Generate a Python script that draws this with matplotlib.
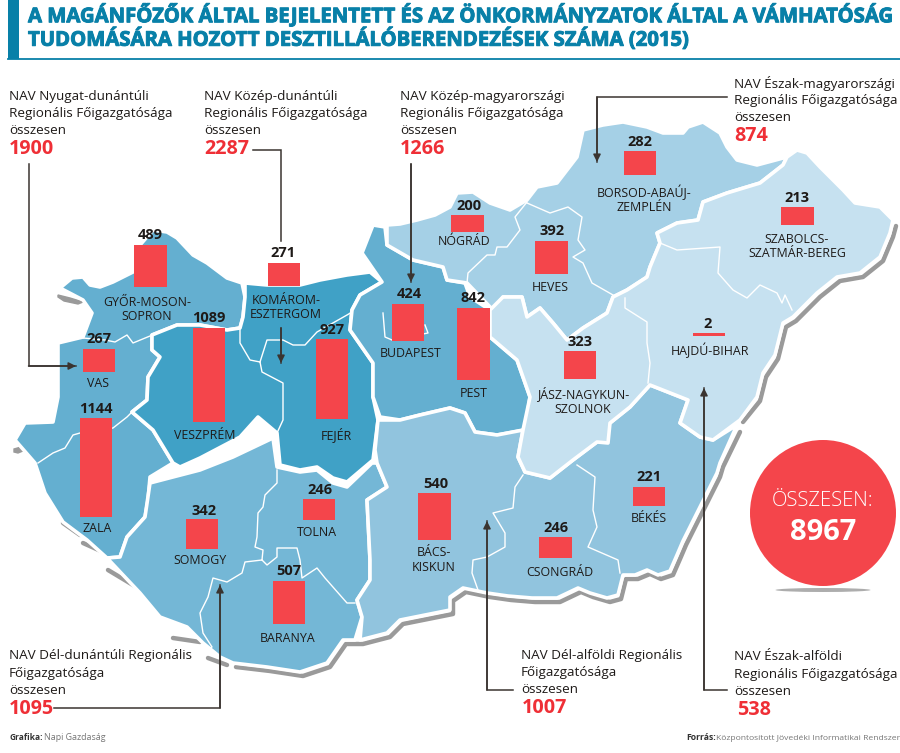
import matplotlib
matplotlib.use("Agg")
import matplotlib.pyplot as plt
import matplotlib.patheffects as pe
from matplotlib.patches import Polygon, Circle, Ellipse, Rectangle

plt.rcParams['font.family'] = ['Open Sans', 'DejaVu Sans']

# ---------- data ----------
counties = ["GYŐR-MOSON-\nSOPRON", "KOMÁROM-\nESZTERGOM", "VAS", "VESZPRÉM", "FEJÉR", "ZALA", "SOMOGY", "TOLNA",
            "BARANYA", "BÁCS-\nKISKUN", "BUDAPEST", "PEST", "NÓGRÁD", "HEVES", "BORSOD-ABAÚJ-\nZEMPLÉN",
            "JÁSZ-NAGYKUN-\nSZOLNOK", "HAJDÚ-BIHAR", "SZABOLCS-\nSZATMÁR-BEREG", "BÉKÉS", "CSONGRÁD"]
values = [489, 271, 267, 1089, 927, 1144, 342, 246, 507, 540, 424, 842, 200, 392, 282, 323, 2, 213, 221, 246]

region_lines = [
    "NAV Nyugat-dunántúli\nRegionális Főigazgatósága\nösszesen",
    "NAV Közép-dunántúli\nRegionális Főigazgatósága\nösszesen",
    "NAV Közép-magyarországi\nRegionális Főigazgatósága\nösszesen",
    "NAV Észak-magyarországi\nRegionális Főigazgatósága\nösszesen",
    "NAV Dél-dunántúli Regionális\nFőigazgatósága\nösszesen",
    "NAV Dél-alföldi Regionális\nFőigazgatósága\nösszesen",
    "NAV Észak-alföldi\nRegionális Főigazgatósága\nösszesen",
]
region_totals = [1900, 2287, 1266, 874, 1095, 1007, 538]
grand_total = 8967
title_lines = ["A MAGÁNFŐZŐK ÁLTAL BEJELENTETT ÉS AZ ÖNKORMÁNYZATOK ÁLTAL A VÁMHATÓSÁG",
               "TUDOMÁSÁRA HOZOTT DESZTILLÁLÓBERENDEZÉSEK SZÁMA (2015)"]

# ---------- layout (picture coordinates) ----------
RED = '#F4454B'; BLUE = '#0880A8'; INK = '#1E1A18'; LINE = '#3A3430'
BAR_W = 32.5
PX_PER_UNIT = 0.0865
bar_x = [150.5, 284, 99, 209, 332, 96, 202, 319, 289, 434.5, 408, 473.5, 467.5, 551.5, 640, 580, 709, 797.5, 649, 555.5]
bar_top = [245, 263, 349, 328, 339, 418, 519, 499, 580.5, 493, 304, 307.5, 215, 240.5, 151, 351, 333, 207, 487, 537]
val_y = [235, 253, 339, 318, 330, 409, 511, 490, 571, 484, 294, 298, 206, 231, 142, 342, 324, 198, 477, 528]
val_x = [150, 283, 99, 209, 332, 96, 204, 320, 289, 436, 409, 473, 469, 552, 640, 580, 708, 797, 649, 556]
lab_x = [147, 286, 98, 205, 336, 97, 200, 317, 288, 434, 411, 474, 464, 550, 644, 583, 710, 797, 649, 560]
lab_y = [309.5, 307.5, 383, 435, 435, 528, 561, 532, 638, 560, 353, 393, 241, 287, 199, 401, 350, 246.5, 519, 572]
reg_pos = [(9, 96, 9), (204, 96, 204), (400, 96, 400), (734, 83, 734), (9, 656, 9), (521, 655, 522), (734, 657, 737)]

nyugat = [(60,288),(72,278),(83,277),(90,285),(100,287),(113,282),(133,272),(140,245),(153,230),(167,232),(177,238),
          (193,255),(207,263),(227,278),(242,283),(245,297),(243,317),(240,328),(227,330),(200,325),(177,325),(152,335),
          (152,350),(160,357),(148,377),(147,400),(132,412),(153,430),(173,463),(150,477),(148,500),(145,517),(127,537),
          (120,557),(107,558),(87,540),(63,522),(45,493),(35,463),(15,440),(25,423),(53,422),(58,397),(58,343),(83,337),
          (92,313),(83,300)]
kozep_dun = [(245,283),(267,285),(300,285),(320,280),(347,275),(370,272),(382,282),(360,295),(352,310),(350,330),(373,363),
             (373,397),(378,420),(373,460),(347,482),(333,478),(317,467),(300,470),(280,465),(277,433),(258,417),(240,437),
             (200,458),(180,467),(173,463),(153,430),(132,412),(147,400),(148,377),(160,357),(152,350),(152,335),(177,325),
             (200,325),(227,330),(240,328),(243,317),(245,297)]
kozep_mo = [(373,225),(385,227),(387,245),(413,260),(443,267),(447,280),(465,283),(470,297),(490,310),(490,337),(517,360),
            (530,397),(525,430),(497,435),(475,432),(465,413),(450,408),(420,415),(400,420),(380,417),(373,397),(373,363),
            (350,330),(352,310),(360,295),(382,282),(362,253)]
del_dun = [(150,483),(173,477),(200,470),(233,457),(273,438),(277,467),(300,472),(317,470),(333,483),(347,487),(372,463),
           (377,463),(387,487),(367,500),(370,560),(370,580),(357,600),(362,617),(355,640),(343,640),(327,663),(300,672),
           (267,667),(233,663),(220,657),(203,643),(187,627),(160,617),(140,593),(107,558),(120,557),(127,537),(145,517)]
del_alf = [(378,420),(400,420),(420,415),(450,408),(465,413),(475,432),(497,435),(523,430),(518,457),(525,472),(550,478),
           (573,460),(597,442),(610,423),(630,407),(650,385),(688,400),(680,423),(700,437),(713,440),(737,425),(720,463),
           (717,473),(690,527),(683,541),(677,555),(670,571),(658,575),(647,570),(635,575),(623,575),(618,595),(607,598),
           (590,593),(578,588),(557,598),(532,598),(508,596),(487,593),(463,588),(450,597),(450,610),(400,620),(387,633),
           (360,640),(362,617),(357,600),(370,580),(370,560),(367,500),(387,487),(377,463),(375,450)]
eszak_mo = [(387,225),(400,224),(417,220),(435,215),(450,207),(457,193),(473,192),(490,203),(510,210),(527,200),(537,187),
            (557,183),(577,157),(583,130),(603,125),(623,122),(647,127),(663,133),(683,133),(688,127),(703,122),(720,133),
            (727,147),(737,160),(757,165),(787,157),(783,165),(760,183),(727,193),(703,202),(698,220),(677,223),(657,233),
            (660,243),(650,267),(647,277),(627,290),(613,297),(607,313),(583,328),(567,340),(553,323),(540,308),(527,317),
            (522,297),(503,297),(493,310),(467,283),(447,280),(443,267),(413,260),(387,245)]
eszak_alf = [(567,340),(583,328),(607,313),(613,297),(627,290),(647,277),(650,267),(660,243),(657,233),(677,223),(698,220),
             (703,202),(727,193),(760,183),(783,165),(787,157),(797,150),(807,153),(820,167),(843,190),(855,203),(880,207),
             (893,220),(890,233),(880,257),(860,273),(837,277),(817,293),(793,317),(783,323),(775,355),(763,373),(757,397),
             (740,420),(713,440),(700,437),(680,423),(688,400),(650,385),(630,407),(610,423),(608,443),(597,442),(573,460),
             (550,478),(525,472),(518,457),(523,430),(530,397),(517,360),(490,337),(490,310),(503,297),(522,297),(527,317),
             (540,308),(553,323)]
regions = [(nyugat, '#64AFD0'), (kozep_dun, '#40A1C6'), (kozep_mo, '#64AFD0'), (del_dun, '#74B7D6'),
           (del_alf, '#91C4DE'), (eszak_mo, '#A5D0E6'), (eszak_alf, '#C6E1F0')]

inner_borders = [
    [(83,338),(105,340),(115,342),(127,335),(133,343),(150,336)],
    [(38,463),(53,453),(65,448),(73,435),(80,433),(113,428),(127,417),(132,412)],
    [(240,328),(240,343),(250,360),(260,362)],
    [(260,362),(262,372),(283,383),(283,420),(277,433)],
    [(260,362),(267,340),(283,340),(293,345),(305,345),(317,332),(347,315),(352,312)],
    [(277,470),(277,483),(265,495),(263,507),(258,513),(257,537),(255,547),(263,550),(262,560)],
    [(262,560),(245,562),(242,573),(227,582),(213,578),(208,597),(200,613),(203,633),(212,647),(207,650)],
    [(262,560),(267,565),(277,557),(277,548),(297,548),(300,560),(302,578),(317,568),(325,578),(347,603),(355,603)],
    [(523,475),(515,487),(513,508),(493,513),(505,533),(505,547),(487,557),(473,560),(472,573),(478,590)],
    [(577,465),(595,477),(593,510),(597,527),(588,547),(618,560),(620,573)],
    [(527,202),(515,217),(520,230),(507,247),(497,247),(495,255),(487,255),(468,273),(467,283)],
    [(527,203),(550,213),(568,207),(582,217),(578,240),(585,250),(573,257),(583,263),(592,283),(613,295)],
    [(625,298),(625,308),(647,322),(647,343),(650,363),(648,383)],
    [(660,243),(677,250),(720,247),(718,273),(733,290),(747,298),(760,285),(777,293),(782,303),(785,295),(792,310)],
    [(383,313),(385,337),(392,340),(428,333),(425,325)],
]
shadows = [
    [(893,222),(890,233),(880,257),(860,273),(837,277),(817,293),(793,317),(783,323),(775,355),(763,373),(757,397),(740,418)],
    [(737,428),(720,463),(717,473),(690,527),(683,541),(677,555),(670,571),(658,575),(647,570),(635,575),(623,575),(618,595),
     (607,598),(590,593),(578,588),(557,598),(532,598),(508,596),(487,593),(463,588),(450,597),(450,610),(400,620),(387,633),
     (360,640),(343,640),(327,663),(300,672),(267,667),(233,663)],
    [(205,654),(224,661)], [(170,634),(197,638)], [(105,566),(135,584)], [(80,539),(100,548)], [(60,519),(77,531)],
]
gray_bits = [[(58,295),(70,298),(83,302),(78,304),(64,301),(58,297)], [(14,449),(28,445),(30,448),(18,453),(14,452)]]
leaders = [
    ([(28.5,164),(28.5,366),(76,366)], True),
    ([(253,150),(281,150),(281,241)], False),
    ([(281,328),(281,363)], True),
    ([(411,164),(411,282)], True),
    ([(727,97),(597,97),(597,162)], True),
    ([(54,708),(220,708),(220,585)], True),
    ([(513,690),(487,690),(487,521)], True),
    ([(727,690),(704,690),(704,388)], True),
]

# ---------- drawing ----------
fig = plt.figure(figsize=(9, 7.53), dpi=100)
ax = fig.add_axes([0, 0, 1, 1])
ax.set_xlim(0, 900); ax.set_ylim(753, 0); ax.axis('off')

# title block
ax.add_patch(Rectangle((8, 0), 10.5, 59, color=BLUE, lw=0))
ax.plot([8, 900], [58.5, 58.5], color=BLUE, lw=1.3)
for y, line in zip((15.5, 40), title_lines):
    ax.text(28, y, line, color=BLUE, fontsize=14.6, fontweight='bold', va='center', ha='left',
            path_effects=[pe.withStroke(linewidth=0.7, foreground=BLUE)])

# map
for seg in shadows:
    ax.plot([p[0]+3 for p in seg], [p[1]+4 for p in seg], color='#9A9A9A', lw=3.2, solid_joinstyle='round',
            solid_capstyle='round', zorder=1)
for b in gray_bits:
    ax.add_patch(Polygon(b, closed=True, fc='#9A9A9A', ec='#9A9A9A', lw=1, zorder=1))
for pts, col in regions:
    ax.add_patch(Polygon(pts, closed=True, fc=col, ec='white', lw=2.6, joinstyle='round', zorder=2))
for b in inner_borders:
    ax.plot([p[0] for p in b], [p[1] for p in b], color='white', lw=1.0, solid_joinstyle='round', zorder=3)

# bars
heights = [max(v * PX_PER_UNIT, 3) for v in values]
ax.bar(bar_x, heights, width=BAR_W, bottom=bar_top, color=RED, lw=0, zorder=4)
for x, y, v in zip(val_x, val_y, values):
    ax.text(x, y, str(v), ha='center', va='center', fontsize=10.5, fontweight='bold', color=INK, zorder=6)
for x, y, c in zip(lab_x, lab_y, counties):
    ax.text(x, y, c, ha='center', va='center', fontsize=8.9, color=INK, linespacing=1.13, zorder=6)

# leaders
for pts, arrow in leaders:
    xs = [p[0] for p in pts]; ys = [p[1] for p in pts]
    ax.plot(xs, ys, color=LINE, lw=1.1, solid_joinstyle='miter', zorder=5)
    if arrow:
        ax.annotate('', xy=pts[-1], xytext=pts[-2],
                    arrowprops=dict(arrowstyle='-|>', color=LINE, lw=1.1, mutation_scale=11, shrinkA=0, shrinkB=0), zorder=5)

# region captions
for (x, y, tx), txt, tot in zip(reg_pos, region_lines, region_totals):
    for i, line in enumerate(txt.split('\n')):
        ax.text(x, y + i * 17.2, line, fontsize=9.7, color=INK, ha='left', va='center', zorder=6)
    ax.text(tx, y + 53, str(tot), fontsize=14.2, fontweight='bold', color='#EF2F36', ha='left', va='center', zorder=6)

# total circle
ax.add_patch(Ellipse((823, 590), 95, 4, fc='#777777', ec='none', alpha=0.6, zorder=1))
ax.add_patch(Circle((823, 513), 73, fc=RED, ec='none', zorder=2))
ax.text(823, 501, "ÖSSZESEN:", color='white', fontsize=14.6, ha='center', va='center', fontweight='light', zorder=6)
ax.text(823, 533, str(grand_total), color='white', fontsize=21, ha='center', va='center', fontweight='bold', zorder=6)

# footer
ax.text(10, 737, "Grafika:", fontsize=6.0, fontweight='bold', color='#333333', va='center')
ax.text(44, 737, "Napi Gazdaság", fontsize=6.4, color='#777777', va='center')
ax.text(686, 738, "Forrás:", fontsize=6.2, fontweight='bold', color='#333333', va='center')
ax.text(716, 738, "Központosított Jövedéki Informatikai Rendszer", fontsize=6.1, color='#777777', va='center')

fig.savefig('out.png', dpi=100)
